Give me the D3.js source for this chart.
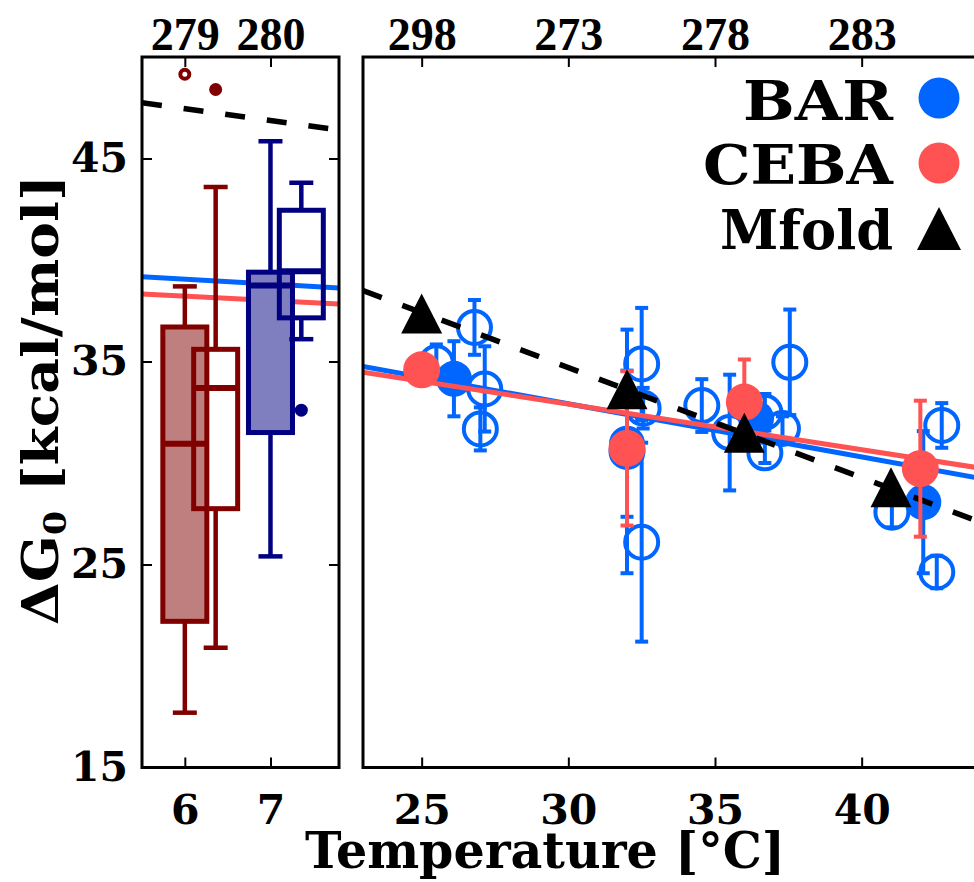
<!DOCTYPE html>
<html><head><meta charset="utf-8">
<script src="https://cdn.jsdelivr.net/npm/d3@7"></script>
<style>body{margin:0;background:#fff} svg{display:block}</style>
</head><body>
<svg id="chart" width="974" height="882"></svg>
<script>
// ---------------- DATA ----------------
const yDomain = [15, 50];
const yTicks = [15, 25, 35, 45];
const leftDomain = [5.5, 7.8];
const leftTicks = [6, 7];
const leftTopLabels = ["279", "280"];
const rightDomain = [23, 44];
const rightTicks = [25, 30, 35, 40];
const rightTopLabels = ["298", "273", "278", "283"];

// box plots (left panel)
const boxX = [6, 6, 7, 7];
const boxSet = ["filled", "open", "filled", "open"];
const boxLow = [17.7, 20.9, 25.4, 36.1];
const boxQ1 = [22.2, 27.75, 31.5, 37.15];
const boxMed = [30.95, 33.7, 38.75, 39.45];
const boxQ3 = [36.7, 35.6, 39.4, 42.45];
const boxHigh = [38.7, 43.6, 45.85, 43.8];
const boxOutliers = [[49.15], [48.4], [], [32.6]];

// fit lines in left panel (endpoints)
const leftFitX = [5.5, 7.8];
const leftBarFitG = [39.18, 38.62];
const leftCebaFitG = [38.32, 37.83];
const leftMfoldFitG = [47.75, 46.40];

// right panel fit lines (endpoints)
const rightFitT = [23, 44];
const barFitG = [34.75, 29.25];
const cebaFitG = [34.47, 29.76];
const mfoldFitG = [38.49, 27.11];

// BAR individual runs (open circles)
const barRunT = [25.5, 26.8, 27.15, 27.0, 32.5, 32.55, 32.5, 32.0, 34.55, 35.5, 36.7, 37.3, 36.7, 37.55, 41.03, 42.73, 42.56];
const barRunG = [34.94, 36.68, 33.65, 31.68, 34.88, 32.7, 26.1, 30.57, 32.83, 31.5, 32.5, 31.7, 30.5, 34.96, 27.58, 31.85, 24.63];
const barRunErr = [0.9, 1.35, 2.1, 1.06, 2.76, 1.0, 4.9, 6.0, 1.3, 2.85, 0.9, 0.6, 0.5, 2.6, 0.75, 1.1, 0.8];

// BAR means (filled blue)
const barT = [26.1, 32.0, 36.4, 42.1];
const barG = [34.15, 30.95, 32.2, 28.07];
const barErr = [1.85, 3.6, 1.0, 3.5];

// CEBA (filled red)
const cebaT = [25, 32, 36, 42];
const cebaG = [34.59, 30.72, 33.0, 29.72];
const cebaErr = [0.5, 3.8, 2.1, 3.35];

// Mfold (triangles)
const mfoldT = [25, 32, 36, 41];
const mfoldG = [37.36, 33.63, 31.49, 28.81];

const legendLabels = ["BAR", "CEBA", "Mfold"];

// ---------------- DRAWING ----------------
const svg = d3.select('#chart');
const FF = '"DejaVu Serif", "Liberation Serif", serif';
const FF2 = '"Liberation Serif", "DejaVu Serif", serif';
const BLUE = '#0066ff', RED = '#ff5252', MAROON = '#800000', NAVY = '#000080';
const TOP = 57, BOTTOM = 767.5;
const LX0 = 142, LX1 = 339, RX0 = 363, RX1 = 979;

const y = d3.scaleLinear().domain(yDomain).range([BOTTOM, TOP]);
const xL = d3.scaleLinear().domain(leftDomain).range([LX0, LX1]);
const xR = d3.scaleLinear().domain(rightDomain).range([RX0, RX1]);

const defs = svg.append('defs');
defs.append('clipPath').attr('id', 'clipL').append('rect')
  .attr('x', LX0).attr('y', TOP).attr('width', LX1 - LX0).attr('height', BOTTOM - TOP);
defs.append('clipPath').attr('id', 'clipR').append('rect')
  .attr('x', RX0).attr('y', TOP).attr('width', RX1 - RX0).attr('height', BOTTOM - TOP);

const gL = svg.append('g').attr('clip-path', 'url(#clipL)');
const gR = svg.append('g').attr('clip-path', 'url(#clipR)');

function pathOf(xs, ys, sc) {
  return d3.line().x(d => sc(d[0])).y(d => y(d[1]))(xs.map((v, i) => [v, ys[i]]));
}
const DASH = '20,22';

// left panel fit lines
gL.append('path').attr('d', pathOf(leftFitX, leftBarFitG, xL)).attr('stroke', BLUE).attr('stroke-width', 5).attr('fill', 'none');
gL.append('path').attr('d', pathOf(leftFitX, leftCebaFitG, xL)).attr('stroke', RED).attr('stroke-width', 5).attr('fill', 'none');
gL.append('path').attr('d', pathOf(leftFitX, leftMfoldFitG, xL)).attr('stroke', '#000').attr('stroke-width', 5.5)
  .attr('stroke-dasharray', DASH).attr('fill', 'none');

// box plots
boxX.forEach((bx, i) => {
  const open = boxSet[i] === 'open';
  const cx = xL(bx + (open ? 0.36 : 0));
  const col = bx === 6 ? MAROON : NAVY;
  const fill = open ? 'none' : (bx === 6 ? '#bf7f7f' : '#7f7fbf');
  const g = gL.append('g');
  const hw = 22, cw = 12;
  g.append('line').attr('x1', cx).attr('x2', cx).attr('y1', y(boxQ3[i])).attr('y2', y(boxHigh[i]))
    .attr('stroke', col).attr('stroke-width', 4.5);
  g.append('line').attr('x1', cx).attr('x2', cx).attr('y1', y(boxQ1[i])).attr('y2', y(boxLow[i]))
    .attr('stroke', col).attr('stroke-width', 4.5);
  [boxHigh[i], boxLow[i]].forEach(v => {
    g.append('line').attr('x1', cx - cw).attr('x2', cx + cw).attr('y1', y(v)).attr('y2', y(v))
      .attr('stroke', col).attr('stroke-width', 4.5);
  });
  g.append('rect').attr('x', cx - hw).attr('y', y(boxQ3[i])).attr('width', 2 * hw)
    .attr('height', y(boxQ1[i]) - y(boxQ3[i])).attr('fill', fill).attr('stroke', col).attr('stroke-width', 5);
  g.append('line').attr('x1', cx - hw).attr('x2', cx + hw).attr('y1', y(boxMed[i])).attr('y2', y(boxMed[i]))
    .attr('stroke', col).attr('stroke-width', 6);
  boxOutliers[i].forEach(v => {
    if (open) {
      g.append('circle').attr('cx', cx).attr('cy', y(v)).attr('r', 6.5).attr('fill', col);
    } else {
      g.append('circle').attr('cx', cx).attr('cy', y(v)).attr('r', 4.5).attr('fill', '#fff')
        .attr('stroke', col).attr('stroke-width', 4);
    }
  });
});

// right panel
function errBar(g, t, v, e, col, w) {
  const cx = xR(t);
  g.append('line').attr('x1', cx).attr('x2', cx).attr('y1', y(v - e)).attr('y2', y(v + e))
    .attr('stroke', col).attr('stroke-width', w);
  [v - e, v + e].forEach(u => g.append('line').attr('x1', cx - 6.5).attr('x2', cx + 6.5)
    .attr('y1', y(u)).attr('y2', y(u)).attr('stroke', col).attr('stroke-width', w));
}

const gRuns = gR.append('g');
barRunT.forEach((t, i) => errBar(gRuns, t, barRunG[i], barRunErr[i], BLUE, 4));
barRunT.forEach((t, i) => gRuns.append('circle').attr('cx', xR(t)).attr('cy', y(barRunG[i])).attr('r', 16.5)
  .attr('fill', 'none').attr('stroke', BLUE).attr('stroke-width', 4));

const gBar = gR.append('g');
barT.forEach((t, i) => errBar(gBar, t, barG[i], barErr[i], BLUE, 4));
barT.forEach((t, i) => gBar.append('circle').attr('cx', xR(t)).attr('cy', y(barG[i])).attr('r', 18).attr('fill', BLUE));

gR.append('path').attr('d', pathOf(rightFitT, barFitG, xR)).attr('stroke', BLUE).attr('stroke-width', 5).attr('fill', 'none');
gR.append('path').attr('d', pathOf(rightFitT, cebaFitG, xR)).attr('stroke', RED).attr('stroke-width', 5).attr('fill', 'none');
gR.append('path').attr('d', pathOf(rightFitT, mfoldFitG, xR)).attr('stroke', '#000').attr('stroke-width', 5.5)
  .attr('stroke-dasharray', DASH).attr('fill', 'none');

const gCeba = gR.append('g');
cebaT.forEach((t, i) => errBar(gCeba, t, cebaG[i], cebaErr[i], RED, 4));
cebaT.forEach((t, i) => gCeba.append('circle').attr('cx', xR(t)).attr('cy', y(cebaG[i])).attr('r', 18.5).attr('fill', RED));

function tri(w, h) { return `M0,${-h / 2}L${w / 2},${h / 2}L${-w / 2},${h / 2}Z`; }
mfoldT.forEach((t, i) => gR.append('path').attr('d', tri(41, 40))
  .attr('transform', `translate(${xR(t)},${y(mfoldG[i])})`).attr('fill', '#000'));

// frames
svg.append('rect').attr('x', LX0).attr('y', TOP).attr('width', LX1 - LX0).attr('height', BOTTOM - TOP)
  .attr('fill', 'none').attr('stroke', '#000').attr('stroke-width', 3);
svg.append('rect').attr('x', RX0).attr('y', TOP).attr('width', RX1 - RX0).attr('height', BOTTOM - TOP)
  .attr('fill', 'none').attr('stroke', '#000').attr('stroke-width', 3);

// axes
function styleAxis(font, size) {
  return g => {
    g.select('.domain').remove();
    g.selectAll('.tick line').attr('stroke', '#000').attr('stroke-width', 2);
    g.selectAll('text').attr('font-family', font).attr('font-weight', 'bold').attr('font-size', size).attr('fill', '#000');
  };
}
svg.append('g').attr('transform', `translate(0,${BOTTOM})`)
  .call(d3.axisBottom(xL).tickValues(leftTicks).tickFormat(d3.format('d')).tickSize(-10).tickPadding(27)).call(styleAxis(FF, 41));
svg.append('g').attr('transform', `translate(0,${BOTTOM})`)
  .call(d3.axisBottom(xR).tickValues(rightTicks).tickFormat(d3.format('d')).tickSize(-10).tickPadding(27)).call(styleAxis(FF, 41));
svg.append('g').attr('transform', `translate(0,${TOP})`)
  .call(d3.axisTop(xL).tickValues(leftTicks).tickFormat((d, i) => leftTopLabels[i]).tickSize(-10).tickPadding(7)).call(styleAxis(FF2, 46));
svg.append('g').attr('transform', `translate(0,${TOP})`)
  .call(d3.axisTop(xR).tickValues(rightTicks).tickFormat((d, i) => rightTopLabels[i]).tickSize(-10).tickPadding(7)).call(styleAxis(FF2, 46));
svg.append('g').attr('transform', `translate(${LX0},0)`)
  .call(d3.axisLeft(y).tickValues(yTicks).tickFormat(d3.format('d')).tickSize(-10).tickPadding(14)).call(styleAxis(FF, 41));
svg.append('g').attr('transform', `translate(${LX1},0)`)
  .call(d3.axisRight(y).tickValues(yTicks).tickFormat('').tickSize(-10)).call(styleAxis(FF, 41));

// axis titles
svg.append('text').attr('x', 545).attr('y', 868).attr('text-anchor', 'middle')
  .attr('font-family', FF).attr('font-weight', 'bold').attr('font-size', 50)
  .attr('textLength', 480).attr('lengthAdjust', 'spacingAndGlyphs').text('Temperature [°C]');

const yl = svg.append('text').attr('transform', 'translate(58,400) rotate(-90)').attr('text-anchor', 'middle')
  .attr('font-family', FF).attr('font-weight', 'bold').attr('font-size', 50)
  .attr('textLength', 450).attr('lengthAdjust', 'spacingAndGlyphs');
yl.append('tspan').text('ΔG');
yl.append('tspan').attr('font-size', 32).attr('dy', 8).text('0');
yl.append('tspan').attr('dy', -8).text(' [kcal/mol]');

// legend
const legY = [120, 184, 249];
const legW = [150, 190, 173];
legendLabels.forEach((lab, i) => {
  svg.append('text').attr('x', 893).attr('y', legY[i]).attr('text-anchor', 'end')
    .attr('font-family', FF).attr('font-weight', 'bold').attr('font-size', 54)
    .attr('textLength', legW[i]).attr('lengthAdjust', 'spacingAndGlyphs').text(lab);
});
svg.append('circle').attr('cx', 939).attr('cy', 98).attr('r', 20.5).attr('fill', BLUE);
svg.append('circle').attr('cx', 939).attr('cy', 163).attr('r', 20.5).attr('fill', RED);
svg.append('path').attr('d', tri(44, 43)).attr('transform', 'translate(939,228.5)').attr('fill', '#000');
</script>
</body></html>
